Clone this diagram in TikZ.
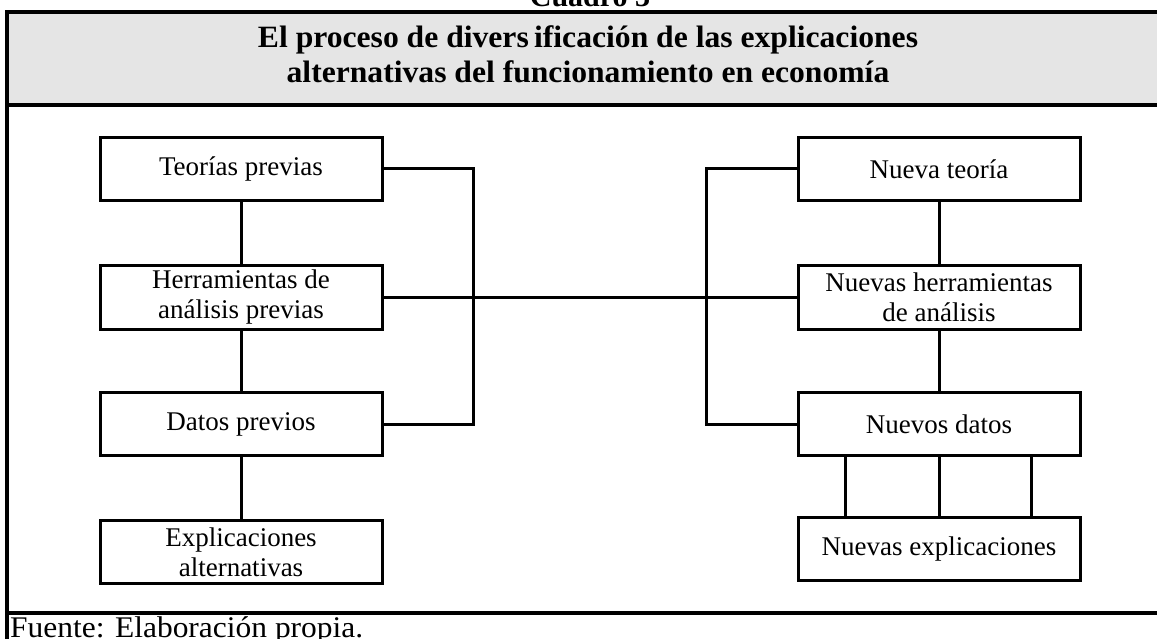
\documentclass[tikz,border=0pt]{standalone}
\usepackage{fontspec}
\usepackage{graphicx}
\setmainfont{Liberation Serif}
\begin{document}
\begin{tikzpicture}[x=1pt,y=-1pt,
  box/.style={draw,line width=3pt,minimum width=282pt,minimum height=63pt,align=center,inner sep=0pt,font=\fontsize{27}{30}\selectfont},
  conn/.style={line width=3pt},
  frame/.style={line width=3.5pt}]
\useasboundingbox (0,0) rectangle (1157,639);
\clip (0,0) rectangle (1157,639);
% header
\fill[gray!20] (7,12) rectangle (1157,105);
\node[anchor=base,font=\fontsize{30}{30}\selectfont\bfseries,inner sep=0pt] (cuadro) at (590,7) {Cuadro 3};
\node[inner sep=0pt,font=\fontsize{31}{35}\selectfont\bfseries] (title) at (588,58.5) {\resizebox{660pt}{\height}{\begin{tabular}{@{}c@{}}El proceso de divers\,ificación de las explicaciones\\alternativas del funcionamiento en economía\end{tabular}}};
\draw[frame] (7,639) -- (7,12) -- (1157,12);
\draw[frame] (7,105) -- (1157,105);
\draw[frame] (7,613) -- (1157,613);
\node[anchor=base west,font=\fontsize{30}{30}\selectfont,inner sep=0pt] (fuente) at (10,637) {\resizebox{353pt}{\height}{Fuente: Elaboración propia.}};
% left column
\node[box] (tp) at (241,169) {Teorías previas};
\node[box] (hp) at (241,297.5) {Herramientas de\\análisis previas};
\node[box] (dp) at (241,424) {Datos previos};
\node[box] (ea) at (241,552) {Explicaciones\\alternativas};
% right column
\node[box] (nt) at (939,169) {Nueva teoría};
\node[box] (nh) at (939,297.5) {Nuevas herramientas\\de análisis};
\node[box] (nd) at (939,424) {Nuevos datos};
\node[box] (ne) at (939,549) {Nuevas explicaciones};
% vertical links
\draw[conn] (tp) -- (hp);
\draw[conn] (hp) -- (dp);
\draw[conn] (dp) -- (ea);
\draw[conn] (nt) -- (nh);
\draw[conn] (nh) -- (nd);
\draw[conn] (nd.south) -- (ne.north);
\draw[conn] ([xshift=-94pt]nd.south) -- ([xshift=-94pt]ne.north);
\draw[conn] ([xshift=92pt]nd.south) -- ([xshift=92pt]ne.north);
% brackets
\coordinate (lb) at (473,0);
\coordinate (rb) at (706,0);
\draw[conn] (tp.east) -- (tp.east -| lb) -- (dp.east -| lb) -- (dp.east);
\draw[conn] (nt.west) -- (nt.west -| rb) -- (nd.west -| rb) -- (nd.west);
\draw[conn] (hp.east) -- (nh.west);
\end{tikzpicture}
\end{document}
